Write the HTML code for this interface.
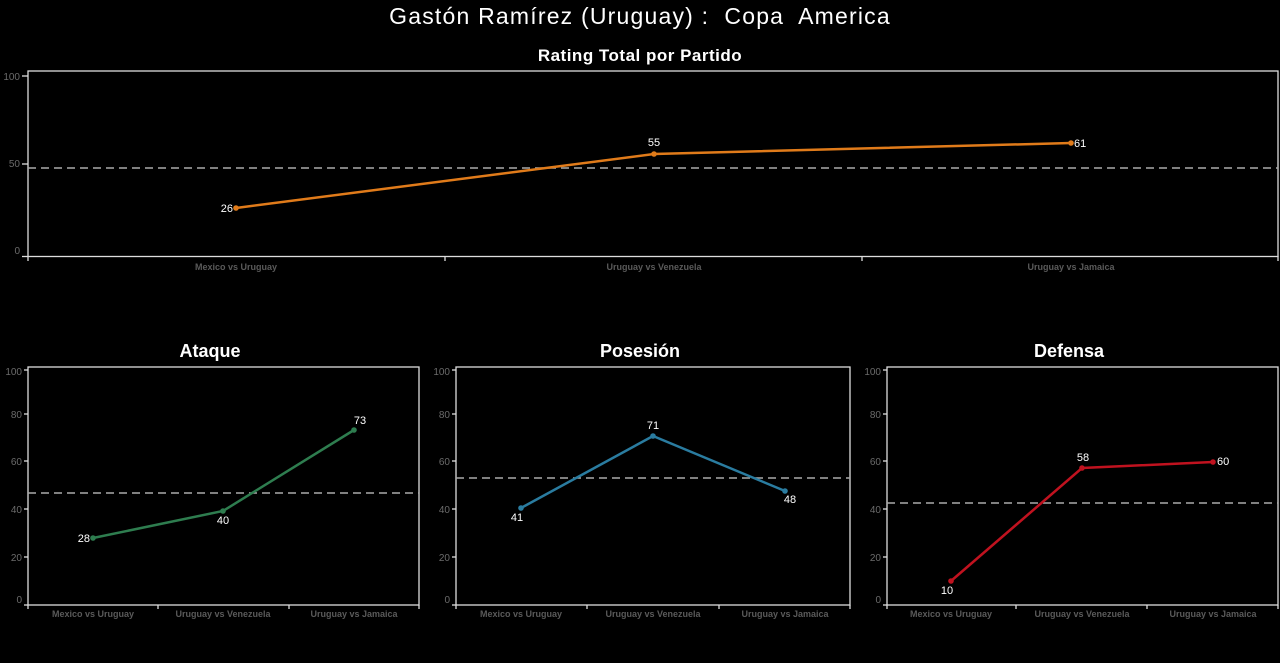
<!DOCTYPE html>
<html><head><meta charset="utf-8"><style>
body{margin:0;background:#000;}
svg{display:block;font-family:"Liberation Sans",sans-serif;}
.tk{fill:#6b6b6b;font-size:10px;}
.cat{fill:#5a5a5a;font-size:9px;font-weight:bold;}
.v{fill:#fff;font-size:11px;}
</style></head><body>
<svg width="1280" height="663" viewBox="0 0 1280 663">
<rect width="1280" height="663" fill="#000"/>
<text x="640" y="24" text-anchor="middle" fill="#fff" font-size="23" letter-spacing="1.2" xml:space="preserve">Gastón Ramírez (Uruguay) :  Copa  America</text>
<text x="640" y="61" text-anchor="middle" fill="#fff" font-size="17" font-weight="bold" letter-spacing="0.5">Rating Total por Partido</text>

<!-- top chart -->
<g stroke="#ddd" stroke-width="1.3" fill="none">
<rect x="28" y="71" width="1250" height="185.5"/>
<line x1="22" y1="76" x2="28" y2="76"/><line x1="22" y1="164" x2="28" y2="164"/><line x1="22" y1="256.5" x2="28" y2="256.5"/>
<line x1="28" y1="256" x2="28" y2="261"/><line x1="445" y1="256" x2="445" y2="261"/><line x1="862" y1="256" x2="862" y2="261"/><line x1="1278" y1="256" x2="1278" y2="261"/>
</g>
<text class="tk" x="20" y="80" text-anchor="end">100</text>
<text class="tk" x="20" y="167" text-anchor="end">50</text>
<text class="tk" x="20" y="254" text-anchor="end">0</text>
<line x1="28" y1="168" x2="1278" y2="168" stroke="#aaa" stroke-width="1.5" stroke-dasharray="8,5"/>
<polyline points="236,208 654,154 1071,143" fill="none" stroke="#e07b1a" stroke-width="2.5"/>
<g fill="#e07b1a"><circle cx="236" cy="208" r="2.8"/><circle cx="654" cy="154" r="2.8"/><circle cx="1071" cy="143" r="2.8"/></g>
<text class="v" x="233" y="212" text-anchor="end">26</text>
<text class="v" x="654" y="146" text-anchor="middle">55</text>
<text class="v" x="1074" y="147">61</text>
<text class="cat" x="236" y="270" text-anchor="middle">Mexico vs Uruguay</text>
<text class="cat" x="654" y="270" text-anchor="middle">Uruguay vs Venezuela</text>
<text class="cat" x="1071" y="270" text-anchor="middle">Uruguay vs Jamaica</text>

<!-- small charts -->
<g>
<text x="210" y="357" text-anchor="middle" fill="#fff" font-size="18" font-weight="bold">Ataque</text>
<g stroke="#ddd" stroke-width="1.3" fill="none">
<rect x="28" y="367" width="391" height="238"/>
<line x1="24" y1="370" x2="28" y2="370"/><line x1="24" y1="414" x2="28" y2="414"/><line x1="24" y1="461" x2="28" y2="461"/><line x1="24" y1="509" x2="28" y2="509"/><line x1="24" y1="557" x2="28" y2="557"/><line x1="24" y1="605" x2="28" y2="605"/>
<line x1="28" y1="605" x2="28" y2="609"/><line x1="158" y1="605" x2="158" y2="609"/><line x1="289" y1="605" x2="289" y2="609"/><line x1="419" y1="605" x2="419" y2="609"/>
</g>
<text class="tk" x="22" y="375" text-anchor="end" font-size="9">100</text>
<text class="tk" x="22" y="418" text-anchor="end" font-size="9">80</text>
<text class="tk" x="22" y="465" text-anchor="end" font-size="9">60</text>
<text class="tk" x="22" y="513" text-anchor="end" font-size="9">40</text>
<text class="tk" x="22" y="561" text-anchor="end" font-size="9">20</text>
<text class="tk" x="22" y="603" text-anchor="end" font-size="9">0</text>
<line x1="28" y1="493" x2="419" y2="493" stroke="#aaa" stroke-width="1.5" stroke-dasharray="8,5"/>
<polyline points="93,538 223,511 354,430" fill="none" stroke="#2e7d4f" stroke-width="2.5"/>
<g fill="#2e7d4f"><circle cx="93" cy="538" r="2.8"/><circle cx="223" cy="511" r="2.8"/><circle cx="354" cy="430" r="2.8"/></g>
<text class="v" x="90" y="542" text-anchor="end">28</text>
<text class="v" x="223" y="524" text-anchor="middle">40</text>
<text class="v" x="360" y="424" text-anchor="middle">73</text>
<text class="cat" x="93" y="617" text-anchor="middle" font-size="8">Mexico vs Uruguay</text>
<text class="cat" x="223" y="617" text-anchor="middle" font-size="8">Uruguay vs Venezuela</text>
<text class="cat" x="354" y="617" text-anchor="middle" font-size="8">Uruguay vs Jamaica</text>
</g>

<g>
<text x="640" y="357" text-anchor="middle" fill="#fff" font-size="18" font-weight="bold">Posesión</text>
<g stroke="#ddd" stroke-width="1.3" fill="none">
<rect x="456" y="367" width="394" height="238"/>
<line x1="452" y1="370" x2="456" y2="370"/><line x1="452" y1="414" x2="456" y2="414"/><line x1="452" y1="461" x2="456" y2="461"/><line x1="452" y1="509" x2="456" y2="509"/><line x1="452" y1="557" x2="456" y2="557"/><line x1="452" y1="605" x2="456" y2="605"/>
<line x1="456" y1="605" x2="456" y2="609"/><line x1="587" y1="605" x2="587" y2="609"/><line x1="719" y1="605" x2="719" y2="609"/><line x1="850" y1="605" x2="850" y2="609"/>
</g>
<text class="tk" x="450" y="375" text-anchor="end" font-size="9">100</text>
<text class="tk" x="450" y="418" text-anchor="end" font-size="9">80</text>
<text class="tk" x="450" y="465" text-anchor="end" font-size="9">60</text>
<text class="tk" x="450" y="513" text-anchor="end" font-size="9">40</text>
<text class="tk" x="450" y="561" text-anchor="end" font-size="9">20</text>
<text class="tk" x="450" y="603" text-anchor="end" font-size="9">0</text>
<line x1="456" y1="478" x2="850" y2="478" stroke="#aaa" stroke-width="1.5" stroke-dasharray="8,5"/>
<polyline points="521,508 653,436 785,491" fill="none" stroke="#2a7ca0" stroke-width="2.5"/>
<g fill="#2a7ca0"><circle cx="521" cy="508" r="2.8"/><circle cx="653" cy="436" r="2.8"/><circle cx="785" cy="491" r="2.8"/></g>
<text class="v" x="517" y="521" text-anchor="middle">41</text>
<text class="v" x="653" y="429" text-anchor="middle">71</text>
<text class="v" x="790" y="503" text-anchor="middle">48</text>
<text class="cat" x="521" y="617" text-anchor="middle" font-size="8">Mexico vs Uruguay</text>
<text class="cat" x="653" y="617" text-anchor="middle" font-size="8">Uruguay vs Venezuela</text>
<text class="cat" x="785" y="617" text-anchor="middle" font-size="8">Uruguay vs Jamaica</text>
</g>

<g>
<text x="1069" y="357" text-anchor="middle" fill="#fff" font-size="18" font-weight="bold">Defensa</text>
<g stroke="#ddd" stroke-width="1.3" fill="none">
<rect x="887" y="367" width="391" height="238"/>
<line x1="883" y1="370" x2="887" y2="370"/><line x1="883" y1="414" x2="887" y2="414"/><line x1="883" y1="461" x2="887" y2="461"/><line x1="883" y1="509" x2="887" y2="509"/><line x1="883" y1="557" x2="887" y2="557"/><line x1="883" y1="605" x2="887" y2="605"/>
<line x1="887" y1="605" x2="887" y2="609"/><line x1="1016" y1="605" x2="1016" y2="609"/><line x1="1147" y1="605" x2="1147" y2="609"/><line x1="1278" y1="605" x2="1278" y2="609"/>
</g>
<text class="tk" x="881" y="375" text-anchor="end" font-size="9">100</text>
<text class="tk" x="881" y="418" text-anchor="end" font-size="9">80</text>
<text class="tk" x="881" y="465" text-anchor="end" font-size="9">60</text>
<text class="tk" x="881" y="513" text-anchor="end" font-size="9">40</text>
<text class="tk" x="881" y="561" text-anchor="end" font-size="9">20</text>
<text class="tk" x="881" y="603" text-anchor="end" font-size="9">0</text>
<line x1="887" y1="503" x2="1278" y2="503" stroke="#aaa" stroke-width="1.5" stroke-dasharray="8,5"/>
<polyline points="951,581 1082,468 1213,462" fill="none" stroke="#c0121f" stroke-width="2.5"/>
<g fill="#c0121f"><circle cx="951" cy="581" r="2.8"/><circle cx="1082" cy="468" r="2.8"/><circle cx="1213" cy="462" r="2.8"/></g>
<text class="v" x="947" y="594" text-anchor="middle">10</text>
<text class="v" x="1083" y="461" text-anchor="middle">58</text>
<text class="v" x="1217" y="465">60</text>
<text class="cat" x="951" y="617" text-anchor="middle" font-size="8">Mexico vs Uruguay</text>
<text class="cat" x="1082" y="617" text-anchor="middle" font-size="8">Uruguay vs Venezuela</text>
<text class="cat" x="1213" y="617" text-anchor="middle" font-size="8">Uruguay vs Jamaica</text>
</g>
</svg>
</body></html>
